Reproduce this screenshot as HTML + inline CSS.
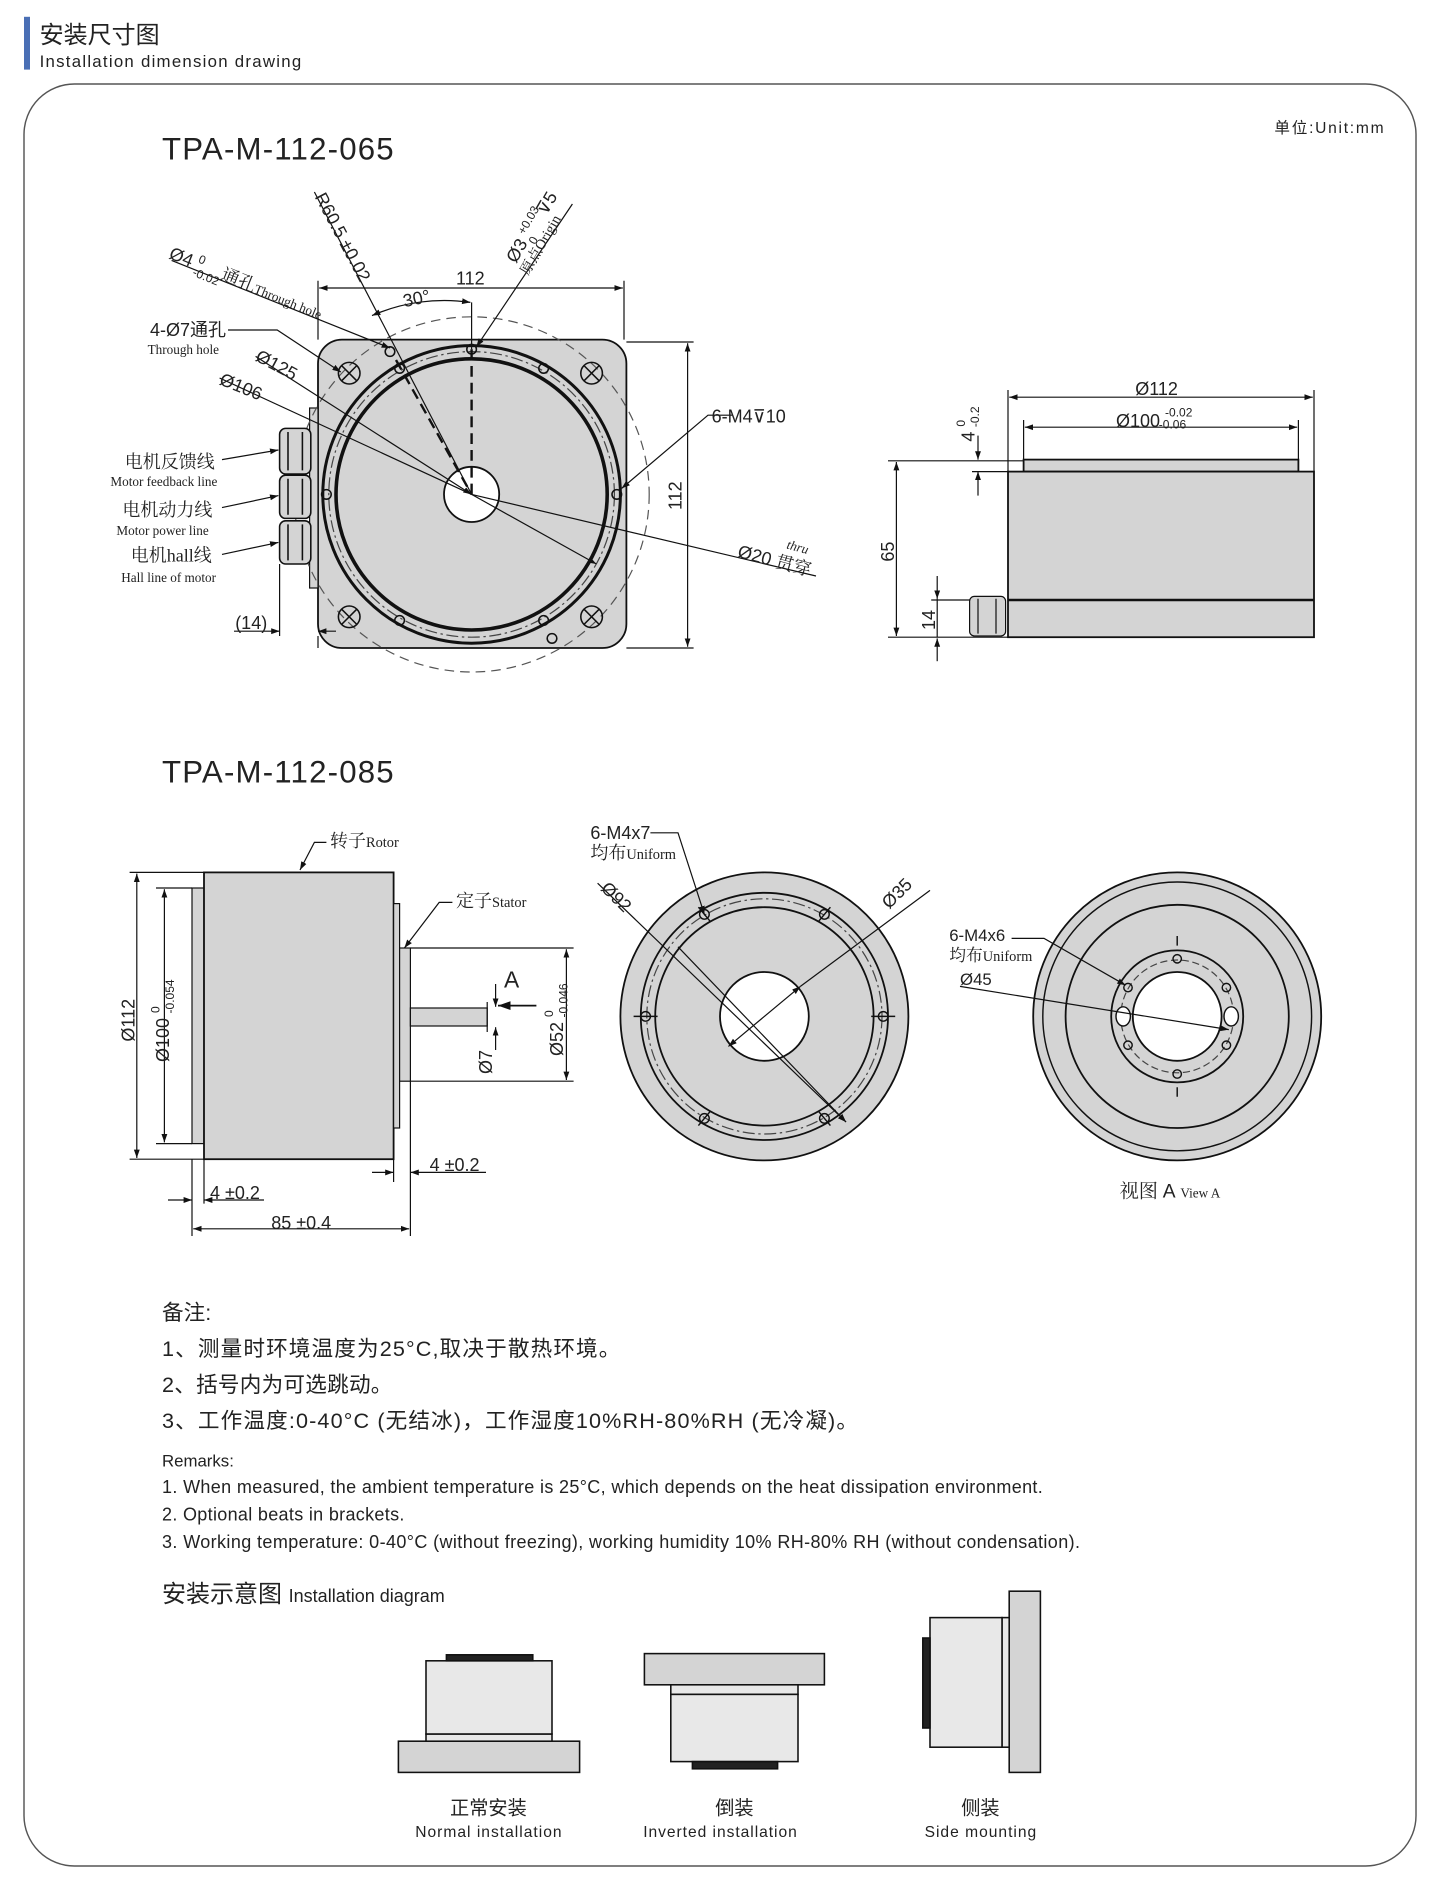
<!DOCTYPE html>
<html><head><meta charset="utf-8"><style>
html,body{margin:0;padding:0;background:#fff}
svg{display:block}
text{font-family:"Liberation Sans","Noto Sans CJK SC",sans-serif;fill:#222}
.s{font-family:"Liberation Serif","Noto Serif CJK SC",serif}
</style></head><body>
<svg width="1440" height="1878" viewBox="0 0 1200 1565" xmlns="http://www.w3.org/2000/svg">
<defs>
<marker id="a" viewBox="0 0 10 10" refX="10" refY="5" markerWidth="7" markerHeight="7" orient="auto-start-reverse"><path d="M0,1.5 L10,5 L0,8.5z" fill="#111"/></marker>
</defs>
<rect x="20" y="14" width="5" height="44" fill="#4a6fb5"/>
<text x="33" y="36" font-size="20">安装尺寸图</text>
<text x="33" y="56" font-size="14" textLength="218" lengthAdjust="spacing">Installation dimension drawing</text>
<rect x="20" y="70" width="1160" height="1485" rx="42" fill="none" stroke="#555" stroke-width="1.2"/>
<text x="1062" y="111" font-size="13" textLength="91" lengthAdjust="spacing">单位:Unit:mm</text>
<text x="135" y="133" font-size="26" letter-spacing="1">TPA-M-112-065</text>

<g stroke="#111" fill="none" stroke-width="1">
<rect x="265" y="283" width="257" height="257" rx="20" fill="#d4d4d4" stroke-width="1.5"/>
<rect x="258" y="340" width="7" height="150" fill="#d4d4d4"/>
<circle cx="393" cy="412" r="148" stroke-dasharray="8,5" stroke="#555"/>
<circle cx="393" cy="412" r="124" stroke-width="2.5"/>
<circle cx="393" cy="412" r="119" stroke-dasharray="10,3,2,3" stroke="#444"/>
<circle cx="393" cy="412" r="113" stroke-width="3"/>
<circle cx="393" cy="412" r="23" fill="#fff" stroke-width="1.5"/>
<g stroke-width="1.3">
<circle cx="291" cy="311" r="9"/><path d="M285,305l12,12M297,305l-12,12"/>
<circle cx="493" cy="311" r="9"/><path d="M487,305l12,12M499,305l-12,12"/>
<circle cx="291" cy="514" r="9"/><path d="M285,508l12,12M297,508l-12,12"/>
<circle cx="493" cy="514" r="9"/><path d="M487,508l12,12M499,508l-12,12"/>
<circle cx="514" cy="412" r="4"/><circle cx="272" cy="412" r="4"/>
<circle cx="453" cy="307" r="4"/><circle cx="333" cy="307" r="4"/>
<circle cx="453" cy="517" r="4"/><circle cx="333" cy="517" r="4"/>
<circle cx="393" cy="291" r="4"/><circle cx="325" cy="293" r="4"/><circle cx="460" cy="532" r="4"/>
</g>
<path d="M393,291V412M330,300L393,412" stroke-width="2" stroke-dasharray="9,5"/>
<g fill="#d4d4d4" stroke-width="1.3">
<rect x="233" y="357" width="26" height="38" rx="5"/><rect x="233" y="396" width="26" height="36" rx="5"/><rect x="233" y="434" width="26" height="36" rx="5"/>
<path d="M240,360v32M252,360v32M240,399v30M252,399v30M240,437v30M252,437v30"/>
</g>
<path d="M265,283V234M520,283V234"/>
<path d="M266,240H519" marker-start="url(#a)" marker-end="url(#a)"/>
<path d="M522,285H578M522,540H578"/>
<path d="M573,286V539" marker-start="url(#a)" marker-end="url(#a)"/>
<path d="M310,263A150,150 0 0 1 392,252" marker-start="url(#a)" marker-end="url(#a)"/>
<path d="M393,252V291"/>
<path d="M262,160L393,412"/>
<path d="M477,170L397,289" marker-end="url(#a)"/>
<path d="M143,217L270,268L325,290" marker-end="url(#a)"/>
<path d="M190,275H231L284,310" marker-end="url(#a)"/>
<path d="M213,297L393,412" marker-end="url(#a)"/><path d="M393,412L497,470" marker-end="url(#a)"/>
<path d="M183,315L393,412"/><path d="M393,412L680,480"/>
<path d="M610,346H590L518,407" marker-end="url(#a)"/>
<path d="M185,383L232,375" marker-end="url(#a)"/>
<path d="M185,423L232,413" marker-end="url(#a)"/>
<path d="M185,462L232,452" marker-end="url(#a)"/>
<path d="M233,470V530M265,540V530"/>
<path d="M195,526H233" marker-end="url(#a)"/><path d="M280,526H265" marker-end="url(#a)"/>
</g>
<g font-size="15">
<text x="380" y="237">112</text>
<text x="337" y="256" transform="rotate(-12 337 256)">30°</text>
<text x="568" y="425" transform="rotate(-90 568 425)">112</text>
<text x="593" y="352">6-M4⊽10</text>
<text x="196" y="524">(14)</text>
<text x="262" y="164" transform="rotate(62 262 164)">R60.5 ±0.02</text>
<text x="125" y="280" font-size="15">4-Ø7通孔</text>
<text x="123" y="295" font-size="11" class="s" fill="#333">Through hole</text>
<text x="140" y="215" transform="rotate(22 140 215)">Ø4 <tspan font-size="10" dy="-6">0</tspan><tspan font-size="10" dx="-6" dy="12">-0.02</tspan><tspan dy="-6" class="s">通孔</tspan><tspan font-size="11" class="s">Through hole</tspan></text>
<text x="212" y="300" transform="rotate(28 212 300)">Ø125</text>
<text x="182" y="320" transform="rotate(22 182 320)">Ø106</text>
<text x="614" y="464" transform="rotate(15 614 464)">Ø20 <tspan class="s">贯穿</tspan></text>
<text x="655" y="457" transform="rotate(15 655 457)" font-size="11" class="s" font-style="italic">thru</text>
<text x="430" y="220" transform="rotate(-60 430 220)">Ø3 <tspan font-size="10" dy="-6">+0.03</tspan><tspan font-size="10" dx="-28" dy="12">0</tspan><tspan dx="20" dy="-4">⊽5</tspan></text>
<text x="440" y="230" transform="rotate(-60 440 230)" font-size="12" class="s">原点Origin</text>
<text x="104" y="390" class="s">电机反馈线</text>
<text x="92" y="405" font-size="11" class="s" fill="#333">Motor feedback line</text>
<text x="102" y="430" class="s">电机动力线</text>
<text x="97" y="446" font-size="11" class="s" fill="#333">Motor power line</text>
<text x="109" y="468" class="s">电机hall线</text>
<text x="101" y="485" font-size="11" class="s" fill="#333">Hall line of motor</text>
</g>

<g stroke="#111" fill="none" stroke-width="1">
<rect x="853" y="383" width="229" height="10" fill="#d4d4d4" stroke-width="1.5"/>
<rect x="840" y="393" width="255" height="138" fill="#d4d4d4" stroke-width="1.5"/>
<path d="M840,500H1095" stroke-width="2"/>
<rect x="808" y="497" width="30" height="33" rx="4" fill="#d4d4d4"/>
<path d="M815,499v29M830,499v29"/>
<path d="M840,393V325M1095,393V325M853,383V350M1082,383V350"/>
<path d="M841,331H1094" marker-start="url(#a)" marker-end="url(#a)"/>
<path d="M854,356H1081" marker-start="url(#a)" marker-end="url(#a)"/>
<path d="M740,384H853M740,531H840M776,500H808M776,531H783"/>
<path d="M747,385V530" marker-start="url(#a)" marker-end="url(#a)"/>
<path d="M781,480V499" marker-end="url(#a)"/><path d="M781,551V532" marker-end="url(#a)"/>
<path d="M781,499V531"/>
<path d="M815,363V383" marker-end="url(#a)"/><path d="M815,413V393" marker-end="url(#a)"/>
<path d="M810,393H840"/>
</g>
<g font-size="15">
<text x="946" y="329">Ø112</text>
<text x="930" y="356">Ø100 <tspan font-size="10" dy="-9">-0.02</tspan><tspan font-size="10" dx="-28" dy="10">-0.06</tspan></text>
<text x="745" y="468" transform="rotate(-90 745 468)">65</text>
<text x="779" y="525" transform="rotate(-90 779 525)">14</text>
<text x="812" y="368" transform="rotate(-90 812 368)">4 <tspan font-size="10" dy="-8">0</tspan><tspan font-size="10" dx="-6" dy="12">-0.2</tspan></text>
</g>

<text x="135" y="652" font-size="26" letter-spacing="1">TPA-M-112-085</text>
<g stroke="#111" fill="none" stroke-width="1">
<rect x="160" y="740" width="10" height="213" fill="#d4d4d4"/>
<rect x="170" y="727" width="158" height="239" fill="#d4d4d4" stroke-width="1.5"/>
<rect x="328" y="753" width="5" height="187" fill="#d4d4d4"/>
<rect x="333" y="790" width="9" height="111" fill="#d4d4d4"/>
<rect x="342" y="840" width="64" height="15" fill="#d4d4d4"/>
<path d="M108,727H170M108,966H170M130,740H160M130,953H160"/>
<path d="M114,728V965" marker-start="url(#a)" marker-end="url(#a)"/>
<path d="M137,741V952" marker-start="url(#a)" marker-end="url(#a)"/>
<path d="M342,790H478M342,901H478"/>
<path d="M472,791V900" marker-start="url(#a)" marker-end="url(#a)"/>
<path d="M406,835V860"/>
<path d="M413,820V839" marker-end="url(#a)"/><path d="M413,875V856" marker-end="url(#a)"/>
<path d="M447,838H415" marker-end="url(#a)" stroke-width="1.5"/>
<path d="M160,966V1030M170,966V1003M328,966V985M342,901V1030"/>
<path d="M161,1024H341" marker-start="url(#a)" marker-end="url(#a)"/>
<path d="M140,1000H160" marker-end="url(#a)"/><path d="M220,1000H170" marker-end="url(#a)"/>
<path d="M310,977H328" marker-end="url(#a)"/><path d="M405,977H342" marker-end="url(#a)"/>
<path d="M272,702H262L250,725" marker-end="url(#a)"/>
<path d="M377,752H366L337,790" marker-end="url(#a)"/>
</g>
<g font-size="15">
<text x="112" y="868" transform="rotate(-90 112 868)">Ø112</text>
<text x="141" y="885" transform="rotate(-90 141 885)">Ø100 <tspan font-size="10" dy="-8">0</tspan><tspan font-size="10" dx="-6" dy="12">-0.054</tspan></text>
<text x="469" y="880" transform="rotate(-90 469 880)">Ø52 <tspan font-size="10" dy="-8">0</tspan><tspan font-size="10" dx="-6" dy="12">-0.046</tspan></text>
<text x="410" y="895" transform="rotate(-90 410 895)">Ø7</text>
<text x="420" y="823" font-size="19">A</text>
<text x="175" y="999">4 ±0.2</text>
<text x="358" y="976">4 ±0.2</text>
<text x="226" y="1024">85 ±0.4</text>
<text x="275" y="706" class="s">转子<tspan font-size="12">Rotor</tspan></text>
<text x="380" y="756" class="s">定子<tspan font-size="12">Stator</tspan></text>
</g>

<g stroke="#111" fill="none" stroke-width="1">
<circle cx="637" cy="847" r="120" fill="#d4d4d4" stroke-width="1.5"/>
<circle cx="637" cy="847" r="103" stroke-width="1.5"/>
<circle cx="637" cy="847" r="98" stroke-dasharray="10,3,2,3" stroke="#444"/>
<circle cx="637" cy="847" r="91" stroke-width="1.5"/>
<circle cx="637" cy="847" r="37" fill="#fff" stroke-width="1.5"/>
<g stroke-width="1.2">
<circle cx="736" cy="847" r="4"/><circle cx="538" cy="847" r="4"/>
<circle cx="687" cy="762" r="4"/><circle cx="587" cy="762" r="4"/>
<circle cx="687" cy="932" r="4"/><circle cx="587" cy="932" r="4"/>
<path d="M528,847h20M726,847h20M582,756l10,12M682,768l10,-12M582,938l10,-12M682,926l10,12"/>
</g>
<path d="M498,736L705,935" marker-end="url(#a)"/><path d="M705,935L565,789" marker-start="url(#a)"/>
<path d="M775,742L667,822" /><path d="M667,822L607,872" marker-start="url(#a)" marker-end="url(#a)"/>
<path d="M542,694H565L587,762" marker-end="url(#a)"/>
</g>
<g font-size="15">
<text x="492" y="699">6-M4x7</text>
<text x="492" y="716" class="s">均布<tspan font-size="12">Uniform</tspan></text>
<text x="500" y="741" transform="rotate(45 500 741)">Ø92</text>
<text x="741" y="758" transform="rotate(-45 741 758)">Ø35</text>
</g>

<g stroke="#111" fill="none" stroke-width="1">
<circle cx="981" cy="847" r="120" fill="#d4d4d4" stroke-width="1.5"/>
<circle cx="981" cy="847" r="112" stroke-width="1.2"/>
<circle cx="981" cy="847" r="93" stroke-width="1.5"/>
<circle cx="981" cy="847" r="55" stroke-width="1.5"/>
<circle cx="981" cy="847" r="47" stroke-dasharray="6,3" stroke="#444"/>
<circle cx="981" cy="847" r="37" fill="#fff" stroke-width="1.5"/>
<g stroke-width="1.2">
<circle cx="981" cy="799" r="3.5"/><circle cx="981" cy="895" r="3.5"/>
<circle cx="940" cy="823" r="3.5"/><circle cx="1022" cy="823" r="3.5"/>
<circle cx="940" cy="871" r="3.5"/><circle cx="1022" cy="871" r="3.5"/>
<ellipse cx="936" cy="847" rx="6" ry="8" fill="#fff"/><ellipse cx="1026" cy="847" rx="6" ry="8" fill="#fff"/>
<path d="M981,788v-8M981,906v8"/>
</g>
<path d="M843,782H870L938,821" marker-end="url(#a)"/>
<path d="M800,822L1024,858" marker-end="url(#a)"/>
</g>
<g font-size="14">
<text x="791" y="784">6-M4x6</text>
<text x="791" y="801" class="s">均布<tspan font-size="12">Uniform</tspan></text>
<text x="800" y="821">Ø45</text>
<text x="933" y="998" class="s" font-size="16">视图 <tspan font-family="Liberation Sans">A</tspan> <tspan font-size="11">View A</tspan></text>
</g>

<g font-size="18">
<text x="135" y="1100">备注:</text>
<text x="135" y="1130" textLength="382" lengthAdjust="spacing">1、测量时环境温度为25°C,取决于散热环境。</text>
<text x="135" y="1160" textLength="192" lengthAdjust="spacing">2、括号内为可选跳动。</text>
<text x="135" y="1190" textLength="580" lengthAdjust="spacing">3、工作温度:0-40°C (无结冰)，工作湿度10%RH-80%RH (无冷凝)。</text>
</g>
<g font-size="14">
<text x="135" y="1222">Remarks:</text>
<text x="135" y="1244" font-size="15" textLength="734" lengthAdjust="spacing">1. When measured, the ambient temperature is 25°C, which depends on the heat dissipation environment.</text>
<text x="135" y="1267" font-size="15" textLength="202" lengthAdjust="spacing">2. Optional beats in brackets.</text>
<text x="135" y="1290" font-size="15" textLength="765" lengthAdjust="spacing">3. Working temperature: 0-40°C (without freezing), working humidity 10% RH-80% RH (without condensation).</text>
</g>
<text x="135" y="1335" font-size="20">安装示意图 <tspan font-size="15">Installation diagram</tspan></text>

<g stroke="#111" stroke-width="1.3" fill="#d4d4d4">
<rect x="332" y="1451" width="151" height="26"/>
<rect x="355" y="1445" width="105" height="6" fill="#e8e8e8"/>
<rect x="355" y="1384" width="105" height="61" fill="#e8e8e8"/>
<rect x="372" y="1379" width="72" height="5" fill="#222"/>
<rect x="537" y="1378" width="150" height="26"/>
<rect x="559" y="1404" width="106" height="8" fill="#e8e8e8"/>
<rect x="559" y="1412" width="106" height="56" fill="#e8e8e8"/>
<rect x="577" y="1468" width="71" height="6" fill="#222"/>
<rect x="841" y="1326" width="26" height="151"/>
<rect x="835" y="1348" width="6" height="108" fill="#e8e8e8"/>
<rect x="775" y="1348" width="60" height="108" fill="#e8e8e8"/>
<rect x="769" y="1365" width="6" height="75" fill="#222"/>
</g>
<g font-size="16" text-anchor="middle">
<text x="407" y="1512">正常安装</text><text x="407" y="1531" font-size="13" textLength="122" lengthAdjust="spacing">Normal installation</text>
<text x="612" y="1512">倒装</text><text x="600" y="1531" font-size="13" textLength="128" lengthAdjust="spacing">Inverted installation</text>
<text x="817" y="1512">侧装</text><text x="817" y="1531" font-size="13" textLength="93" lengthAdjust="spacing">Side mounting</text>
</g>
</svg>
</body></html>
